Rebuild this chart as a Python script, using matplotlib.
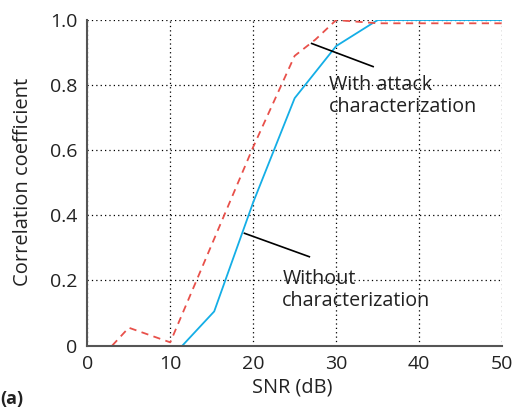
import matplotlib
matplotlib.use("Agg")
import matplotlib.pyplot as plt

plt.rcParams['font.family'] = ['Open Sans', 'DejaVu Sans']

# data
snr_with = [3, 5, 10, 15, 20, 25, 27.5, 30, 35, 40, 45, 50]
corr_with = [0.0, 0.055, 0.01, 0.31, 0.61, 0.89, 0.94, 1.0, 0.99, 0.99, 0.99, 0.99]

snr_without = [10, 15.3, 20, 25, 30, 35, 40, 45, 50]
corr_without = [-0.04, 0.105, 0.44, 0.76, 0.92, 1.0, 1.0, 1.0, 1.0]

xticks = [0, 10, 20, 30, 40, 50]
yticks = [0, 0.2, 0.4, 0.6, 0.8, 1.0]
ytick_labels = ['0', '0.2', '0.4', '0.6', '0.8', '1.0']

fig = plt.figure(figsize=(5.12, 4.09), dpi=100)
ax = fig.add_axes([0.1705, 0.155, 0.81, 0.796])

ax.plot(snr_without, corr_without, color='#14aee6', linewidth=1.3)
ax.plot(snr_with, corr_with, '--', color='#e8504a', linewidth=1.3, dashes=(4, 3))

ax.set_xlim(0, 50)
ax.set_ylim(0, 1.0)
ax.set_xticks(xticks)
ax.set_yticks(yticks)
ax.set_yticklabels(ytick_labels)
ax.tick_params(length=0, labelsize=14, colors='#222222', pad=7)
ax.grid(True, linestyle=(0, (1, 2.5)), color='black', linewidth=0.9)
for s in ['top', 'right']:
    ax.spines[s].set_visible(False)
for s in ['left', 'bottom']:
    ax.spines[s].set_color('#555555')
    ax.spines[s].set_linewidth(1.5)

fig.text(292 / 512, 1 - 388 / 409, 'SNR (dB)', fontsize=14.3, color='#222222',
         ha='center', va='center')
fig.text(23 / 512, 1 - 182 / 409, 'Correlation coefficient', fontsize=14.5,
         color='#222222', ha='center', va='center', rotation=90)

# annotations
ax.plot([27.05, 34.46], [0.928, 0.857], color='black', linewidth=1.2)
ax.text(29.1, 0.83, 'With attack\ncharacterization', fontsize=14.2,
        color='#222222', va='top', ha='left', linespacing=1.12)
ax.plot([18.95, 26.77], [0.345, 0.273], color='black', linewidth=1.2)
ax.text(23.5, 0.235, 'Without\ncharacterization', fontsize=14.2,
        color='#222222', va='top', ha='left', linespacing=1.12)

fig.text(0.0, 0.003, '(a)', fontsize=13, fontweight='bold', color='#222222',
         ha='left', va='bottom')

fig.savefig('out.png', dpi=100)
